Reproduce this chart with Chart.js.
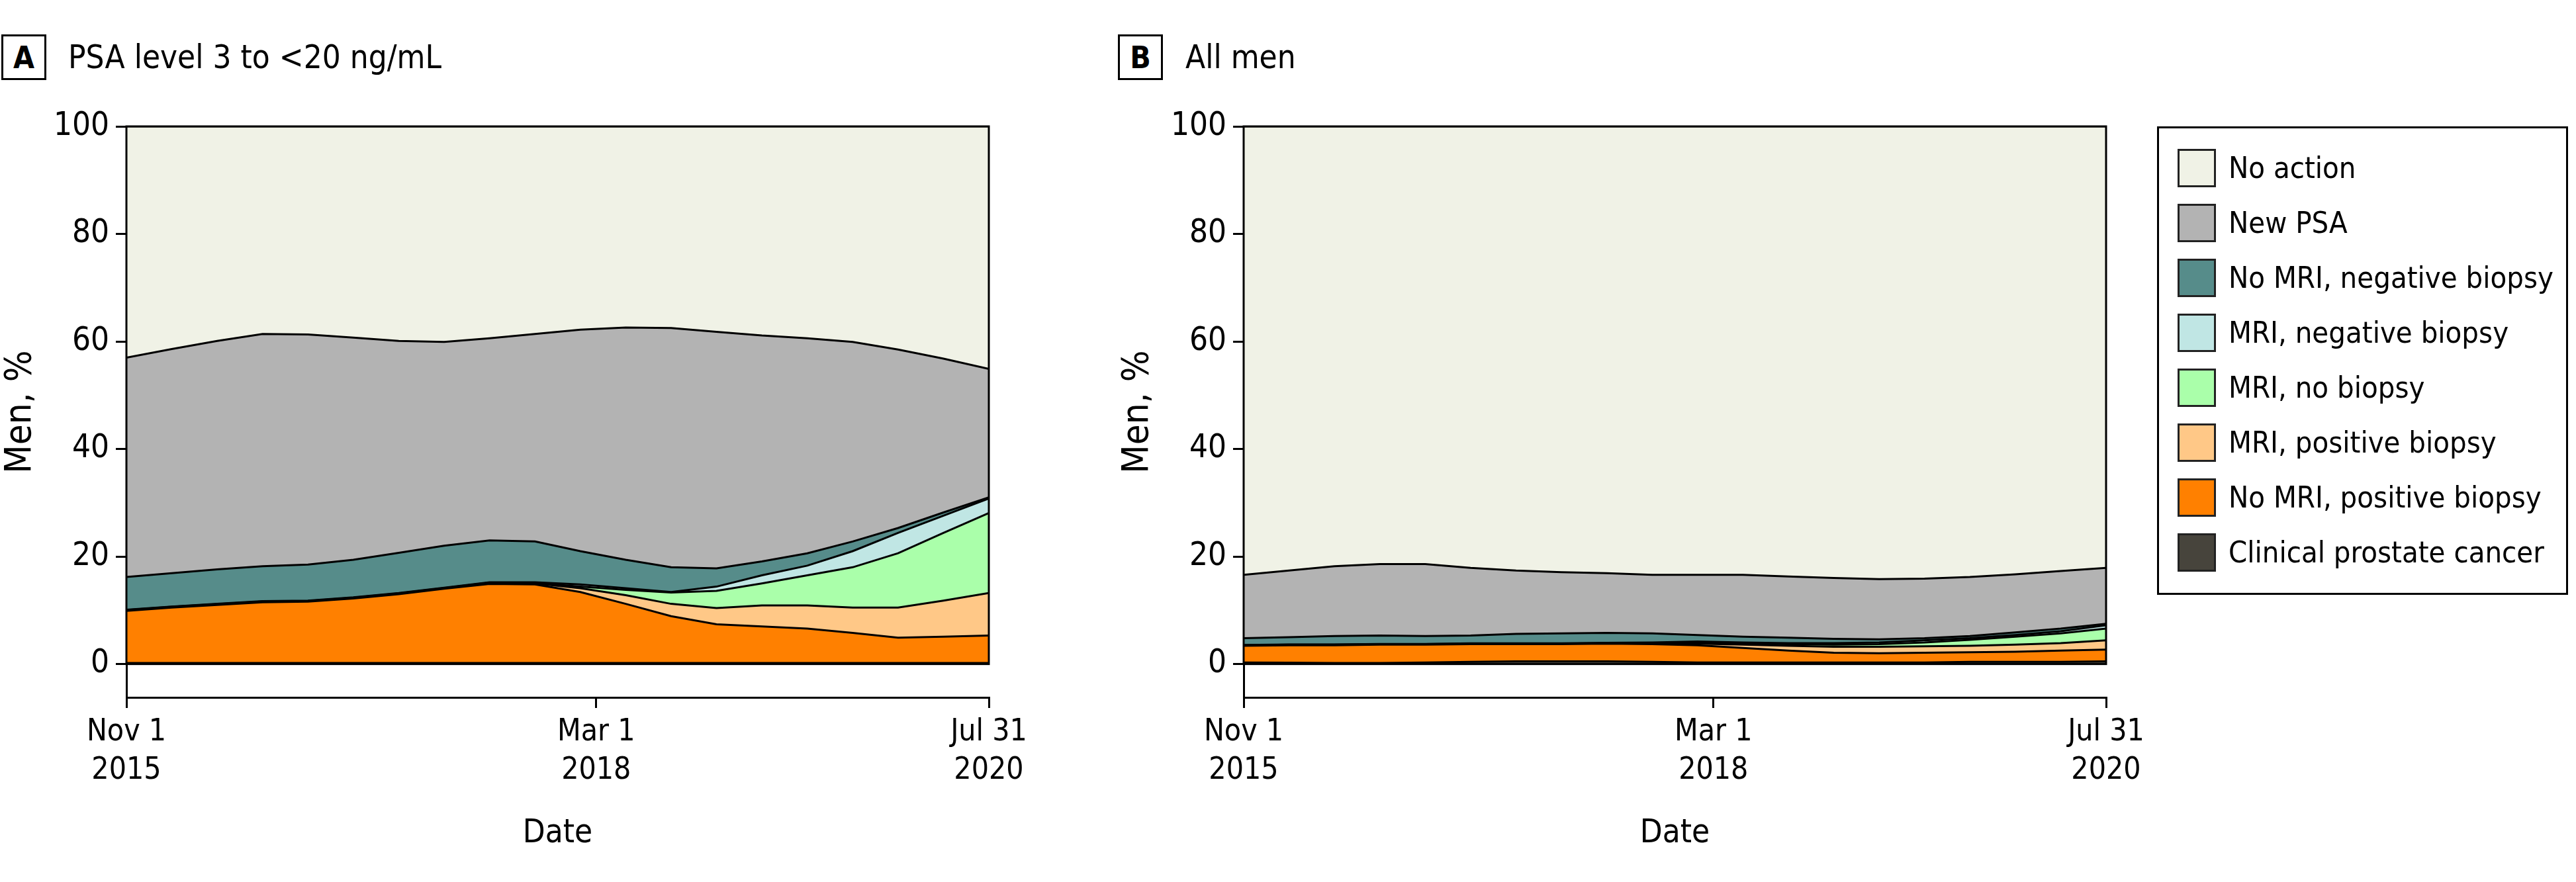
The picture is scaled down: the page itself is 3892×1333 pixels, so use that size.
<!DOCTYPE html>
<html>
<head>
<meta charset="utf-8">
<script src="https://cdn.jsdelivr.net/npm/chart.js@4.4.1/dist/chart.umd.min.js"></script>
<style>
  body { margin:0; width:3892px; height:1333px; background:#fff; position:relative; overflow:hidden;
         font-family:'Liberation Sans Narrow','DejaVu Sans Condensed',sans-serif; color:#000; }
  canvas { position:absolute; top:0; }
  .tag { position:absolute; top:52px; width:68px; height:69px; border:3px solid #000; box-sizing:border-box;
         font-weight:bold; font-size:46px; text-align:center; line-height:64px; }
  .head { position:absolute; top:52px; font-size:49px; line-height:70px; white-space:nowrap; }
  #legend { position:absolute; left:3259px; top:191px; width:621px; height:708px; border:3px solid #000;
            box-sizing:border-box; font-family:'DejaVu Sans Condensed','DejaVu Sans',sans-serif; }
  .sw { position:absolute; left:28px; width:58px; height:58px; border:3px solid #222; box-sizing:border-box; }
  .lb { position:absolute; left:105px; font-size:45px; line-height:58px; white-space:nowrap; }
</style>
</head>
<body>
<div class="tag" style="left:2px">A</div>
<div class="head" style="left:103px">PSA level 3 to &lt;20 ng/mL</div>
<div class="tag" style="left:1689px">B</div>
<div class="head" style="left:1791px">All men</div>
<canvas id="chartA" width="1574" height="1333" style="left:0px"></canvas>
<canvas id="chartB" width="1574" height="1333" style="left:1688px"></canvas>
<div id="legend"></div>
<script>
// eje x: 20 periodos trimestrales
const xIdx = [0,1,2,3,4,5,6,7,8,9,10,11,12,13,14,15,16,17,18,19]
const xTickVals = [0, 10.35, 19]
const xTickText = [['Nov 1','2015'], ['Mar 1','2018'], ['Jul 31','2020']]
const yTickVals = [0, 20, 40, 60, 80, 100]

// series, de abajo hacia arriba
const seriesNames = ['Clinical prostate cancer', 'No MRI, positive biopsy', 'MRI, positive biopsy', 'MRI, no biopsy',
                     'MRI, negative biopsy', 'No MRI, negative biopsy', 'New PSA', 'No action']
const seriesColors = ['#47443c', '#ff8000', '#ffc887', '#aaffaa', '#c0e6e4', '#568c8a', '#b3b3b3', '#f0f2e6']

// A: PSA 3 a <20
const aClinical = [0.2,0.2,0.2,0.2,0.2,0.2,0.2,0.2,0.2,0.2,0.2,0.2,0.2,0.2,0.2,0.2,0.2,0.2,0.2,0.2]
const aNoMriPos = [9.7,10.3,10.8,11.3,11.4,12.0,12.8,13.8,14.7,14.6,13.2,11.0,8.7,7.2,6.8,6.4,5.6,4.7,4.9,5.1]
const aMriPos = [0.1,0.1,0.1,0.1,0.1,0.1,0.1,0.1,0.2,0.2,0.7,1.6,2.3,3.0,3.9,4.3,4.7,5.6,6.7,7.9]
const aMriNoBx = [0.05,0.05,0.05,0.05,0.05,0.05,0.05,0.05,0.05,0.1,0.3,1.0,2.1,3.2,4.1,5.6,7.5,10.1,12.6,14.9]
const aMriNeg = [0.05,0.05,0.05,0.05,0.05,0.05,0.05,0.05,0.05,0.1,0.4,0.3,0.1,0.8,1.5,1.8,3.0,3.8,3.2,2.7]
const aNoMriNeg = [6.1,6.2,6.4,6.5,6.7,7.0,7.5,7.8,7.8,7.6,6.2,5.3,4.6,3.4,2.6,2.3,1.8,0.9,0.6,0.2]
const aNewPsa = [40.8,41.7,42.5,43.2,42.8,41.3,39.4,37.9,37.6,38.6,41.2,43.2,44.5,44.0,42.0,40.0,37.1,33.2,28.6,23.9]
const aNoAction = [43.0,41.4,39.9,38.6,38.7,39.3,39.9,40.1,39.4,38.6,37.8,37.4,37.5,38.2,38.9,39.4,40.1,41.5,43.2,45.1]

// B: todos los hombres
const bClinical = [0.3,0.25,0.2,0.2,0.3,0.4,0.5,0.5,0.5,0.4,0.3,0.3,0.3,0.3,0.3,0.3,0.4,0.4,0.4,0.5]
const bNoMriPos = [3.1,3.25,3.3,3.4,3.3,3.3,3.2,3.2,3.3,3.3,3.2,2.7,2.2,1.8,1.7,1.8,1.8,1.9,2.1,2.2]
const bMriPos = [0.05,0.05,0.05,0.05,0.05,0.05,0.05,0.05,0.05,0.1,0.3,0.6,0.9,1.1,1.2,1.2,1.2,1.3,1.4,1.7]
const bMriNoBx = [0.05,0.05,0.05,0.05,0.05,0.05,0.05,0.05,0.05,0.1,0.2,0.2,0.3,0.4,0.5,0.7,1.1,1.5,1.8,2.2]
const bMriNeg = [0.05,0.05,0.05,0.05,0.05,0.05,0.05,0.05,0.05,0.1,0.2,0.2,0.2,0.3,0.3,0.4,0.3,0.3,0.4,0.6]
const bNoMriNeg = [1.25,1.35,1.55,1.55,1.45,1.45,1.75,1.85,1.85,1.7,1.2,1.1,1.0,0.8,0.6,0.4,0.4,0.5,0.5,0.3]
const bNewPsa = [11.8,12.4,13.0,13.3,13.4,12.6,11.8,11.4,11.1,10.9,11.2,11.5,11.4,11.3,11.2,11.1,11.0,10.8,10.7,10.4]
const bNoAction = [83.4,82.6,81.8,81.4,81.4,82.1,82.6,82.9,83.1,83.4,83.4,83.4,83.7,84.0,84.2,84.1,83.8,83.3,82.7,82.1]

const axisFont = "'Liberation Sans Narrow','DejaVu Sans Condensed',sans-serif"

// marco del area 0-100
const frame = {
    id: 'frame',
    afterDatasetsDraw: (chart) => {
        const ctx = chart.ctx
        const x = chart.scales.x
        const y = chart.scales.y
        const top = y.getPixelForValue(100)
        const bottom = y.getPixelForValue(0)
        ctx.save()
        ctx.strokeStyle = '#000'
        ctx.lineWidth = 3
        ctx.strokeRect(x.left, top, x.right - x.left, bottom - top)
        ctx.restore()
    }
}

const makeChart = (id, series) => {
    new Chart(document.getElementById(id), {
        type: 'line',
        data: {
            datasets: series.map((vals, k) => ({
                label: seriesNames[k],
                data: vals.map((v, i) => ({ x: xIdx[i], y: v })),
                backgroundColor: seriesColors[k],
                borderColor: '#000',
                borderWidth: 3,
                pointRadius: 0,
                tension: 0,
                fill: k === 0 ? 'origin' : '-1'
            }))
        },
        options: {
            responsive: false,
            animation: false,
            devicePixelRatio: 1,
            layout: { padding: { top: 191, right: 80, left: 0, bottom: 0 } },
            plugins: { legend: { display: false }, tooltip: { enabled: false } },
            scales: {
                x: {
                    type: 'linear', min: 0, max: 19,
                    afterBuildTicks: s => { s.ticks = xTickVals.map(v => ({ value: v })) },
                    afterFit: s => { s.height = 279 },
                    ticks: {
                        callback: (v, i) => xTickText[i],
                        font: { family: axisFont, size: 46, lineHeight: 1.26 },
                        color: '#000', padding: 8, maxRotation: 0, autoSkip: false
                    },
                    grid: { drawOnChartArea: false, drawTicks: true, tickLength: 16, color: '#000', lineWidth: 3 },
                    border: { display: true, color: '#000', width: 3 },
                    title: { display: true, text: 'Date', color: '#000',
                             font: { family: axisFont, size: 49, lineHeight: 1.2 }, padding: { top: 0, bottom: 43 } }
                },
                y: {
                    type: 'linear', stacked: true, min: -6.2, max: 100,
                    afterBuildTicks: s => { s.ticks = yTickVals.map(v => ({ value: v })) },
                    afterFit: s => { s.width = 191 },
                    ticks: { font: { family: axisFont, size: 49 }, color: '#000', padding: 10 },
                    grid: { drawOnChartArea: false, drawTicks: true, tickLength: 16, color: '#000', lineWidth: 3 },
                    border: { display: true, color: '#000', width: 3 },
                    title: { display: true, text: 'Men, %', color: '#000',
                             font: { family: axisFont, size: 56, lineHeight: 1 }, padding: { top: 3, bottom: 0 } }
                }
            }
        },
        plugins: [frame]
    })
}

makeChart('chartA', [aClinical, aNoMriPos, aMriPos, aMriNoBx, aMriNeg, aNoMriNeg, aNewPsa, aNoAction])
makeChart('chartB', [bClinical, bNoMriPos, bMriPos, bMriNoBx, bMriNeg, bNoMriNeg, bNewPsa, bNoAction])

// LEYENDA
const legend = document.getElementById('legend')
seriesNames.slice().reverse().forEach((name, r) => {
    const k = seriesNames.length - 1 - r
    const sw = document.createElement('div')
    sw.className = 'sw'
    sw.style.top = (31 + r * 83) + 'px'
    sw.style.background = seriesColors[k]
    const lb = document.createElement('div')
    lb.className = 'lb'
    lb.style.top = (31 + r * 83) + 'px'
    lb.textContent = name
    legend.appendChild(sw)
    legend.appendChild(lb)
})
</script>
</body>
</html>
